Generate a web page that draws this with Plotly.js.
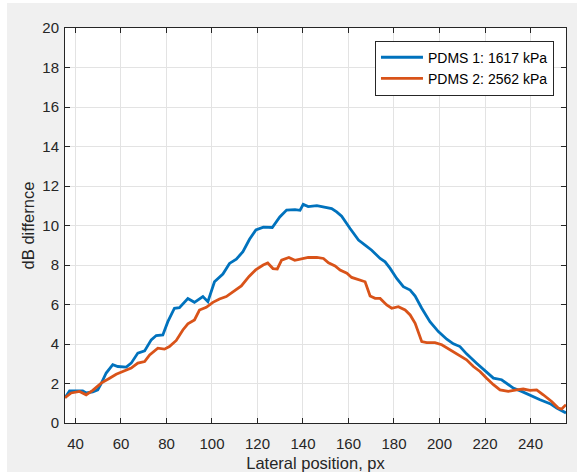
<!DOCTYPE html>
<html>
<head>
<meta charset="utf-8">
<script src="https://cdn.plot.ly/plotly-3.0.1.min.js"></script>
<style>
  html, body { margin: 0; padding: 0; background: #ffffff; width: 577px; height: 472px; overflow: hidden; }
  #chart { position: absolute; left: 7px; top: 3px; width: 570px; height: 469px; }
</style>
</head>
<body>
<div id="chart"></div>
<script>
// Series 1: PDMS 1 (blue)
const blueX = [35.4, 37.4, 40.0, 43.2, 44.7, 47.6, 49.8, 51.3, 53.5, 56.4, 58.6, 62.3, 64.5, 67.4, 70.4, 73.3, 75.5, 78.4,
  80.6, 83.5, 85.7, 89.4, 92.3, 96.0, 98.2, 101.1, 104.8, 107.7, 110.7, 113.6, 116.5, 119.3, 122.6, 126.5, 129.8,
  132.8, 136.5, 138.7, 140.1, 142.3, 146.1, 149.7, 152.6, 154.8, 157.0, 160.7, 164.4, 167.3, 170.2, 173.9, 176.1,
  178.3, 181.2, 184.1, 187.1, 189.3, 192.2, 195.8, 199.5, 203.2, 206.1, 209.0, 211.9, 216.3, 220.0, 223.7, 227.3,
  230.2, 232.4, 236.1, 240.5, 244.2, 248.6, 251.5, 255.6];
const blueY = [1.28, 1.63, 1.62, 1.63, 1.52, 1.58, 1.68, 1.99, 2.53, 2.95, 2.86, 2.83, 3.03, 3.54, 3.65, 4.21, 4.43, 4.46,
  5.13, 5.81, 5.84, 6.30, 6.11, 6.40, 6.14, 7.15, 7.54, 8.08, 8.30, 8.67, 9.30, 9.78, 9.92, 9.90, 10.43,
  10.78, 10.80, 10.77, 11.07, 10.96, 11.01, 10.94, 10.86, 10.69, 10.47, 9.85, 9.26, 9.01, 8.75, 8.33, 8.16,
  7.83, 7.32, 6.90, 6.73, 6.43, 5.81, 5.13, 4.63, 4.24, 4.01, 3.87, 3.50, 3.03, 2.66, 2.27, 2.19,
  1.94, 1.77, 1.60, 1.35, 1.18, 0.98, 0.76, 0.51];

// Series 2: PDMS 2 (orange)
const orangeX = [35.4, 38.1, 41.8, 44.7, 47.6, 51.3, 55.0, 57.9, 60.8, 64.5, 67.4, 70.4, 72.6, 76.2, 79.1, 81.3, 84.3,
  87.2, 89.4, 92.3, 94.5, 97.5, 100.4, 103.3, 106.3, 109.2, 112.9, 116.3, 119.2, 122.5, 124.5, 126.8, 128.7, 130.6,
  133.8, 136.4, 139.7, 142.3, 146.1, 149.0, 151.2, 154.1, 156.3, 159.3, 161.4, 164.4, 167.3, 169.5, 171.7, 173.9,
  176.8, 179.0, 181.9, 184.9, 187.1, 189.3, 190.7, 192.2, 194.4, 198.0, 201.0, 204.6, 208.3, 211.9, 214.9, 217.8,
  220.7, 223.7, 226.6, 230.2, 233.9, 236.8, 239.8, 242.7, 245.6, 249.3, 252.2, 253.7, 255.6];
const orangeY = [1.28, 1.52, 1.60, 1.43, 1.65, 2.02, 2.27, 2.47, 2.61, 2.78, 3.03, 3.11, 3.45, 3.79, 3.74, 3.87, 4.18,
  4.71, 5.02, 5.22, 5.72, 5.86, 6.11, 6.28, 6.40, 6.65, 6.94, 7.42, 7.75, 8.00, 8.10, 7.82, 7.80, 8.25,
  8.38, 8.24, 8.34, 8.38, 8.38, 8.33, 8.11, 7.95, 7.74, 7.58, 7.37, 7.24, 7.15, 6.43, 6.31, 6.31,
  5.98, 5.81, 5.89, 5.72, 5.47, 5.05, 4.55, 4.12, 4.07, 4.07, 3.96, 3.70, 3.45, 3.20, 2.86, 2.61,
  2.27, 1.94, 1.68, 1.60, 1.68, 1.72, 1.65, 1.68, 1.43, 1.09, 0.76, 0.71, 0.93];

const seriesNames = ['PDMS 1: 1617 kPa', 'PDMS 2: 2562 kPa'];
const xTicks = [40, 60, 80, 100, 120, 140, 160, 180, 200, 220, 240];
const yTicks = [0, 2, 4, 6, 8, 10, 12, 14, 16, 18, 20];

const axisColor = '#262626';
const gridColor = '#e3e3e3';
const fontFam = '"Liberation Sans", Arial, Helvetica, sans-serif';

const traces = [
  { x: blueX, y: blueY, type: 'scatter', mode: 'lines', name: seriesNames[0],
    line: { color: '#0072BD', width: 2.8 } },
  { x: orangeX, y: orangeY, type: 'scatter', mode: 'lines', name: seriesNames[1],
    line: { color: '#D95319', width: 2.8 } }
];

const axisCommon = {
  showline: true, linecolor: axisColor, linewidth: 1, mirror: 'ticks',
  ticks: 'inside', ticklen: 5, tickwidth: 1, tickcolor: axisColor,
  showgrid: true, gridcolor: gridColor, gridwidth: 1, zeroline: false,
  tickfont: { family: fontFam, size: 15, color: axisColor }
};

const layout = {
  width: 570, height: 469,
  margin: { l: 58, r: 11, t: 25, b: 49, pad: 0 },
  paper_bgcolor: '#f0f0f0', plot_bgcolor: '#ffffff',
  showlegend: true,
  legend: {
    x: 0.976, xanchor: 'right', y: 0.968, yanchor: 'top',
    bgcolor: '#ffffff', bordercolor: axisColor, borderwidth: 1,
    font: { family: fontFam, size: 14, color: '#000000' },
    itemwidth: 42, tracegroupgap: 0
  },
  xaxis: Object.assign({}, axisCommon, {
    range: [35.4, 255.6], tickvals: xTicks, ticklabelstandoff: 7,
    title: { text: 'Lateral position, px', font: { family: fontFam, size: 16.5, color: axisColor }, standoff: 6 }
  }),
  yaxis: Object.assign({}, axisCommon, {
    range: [0, 20], tickvals: yTicks, ticklabelstandoff: 2,
    title: { text: 'dB differnce', font: { family: fontFam, size: 16.5, color: axisColor }, standoff: 3 }
  })
};

Plotly.newPlot('chart', traces, layout, { displayModeBar: false, staticPlot: true });
</script>
</body>
</html>
